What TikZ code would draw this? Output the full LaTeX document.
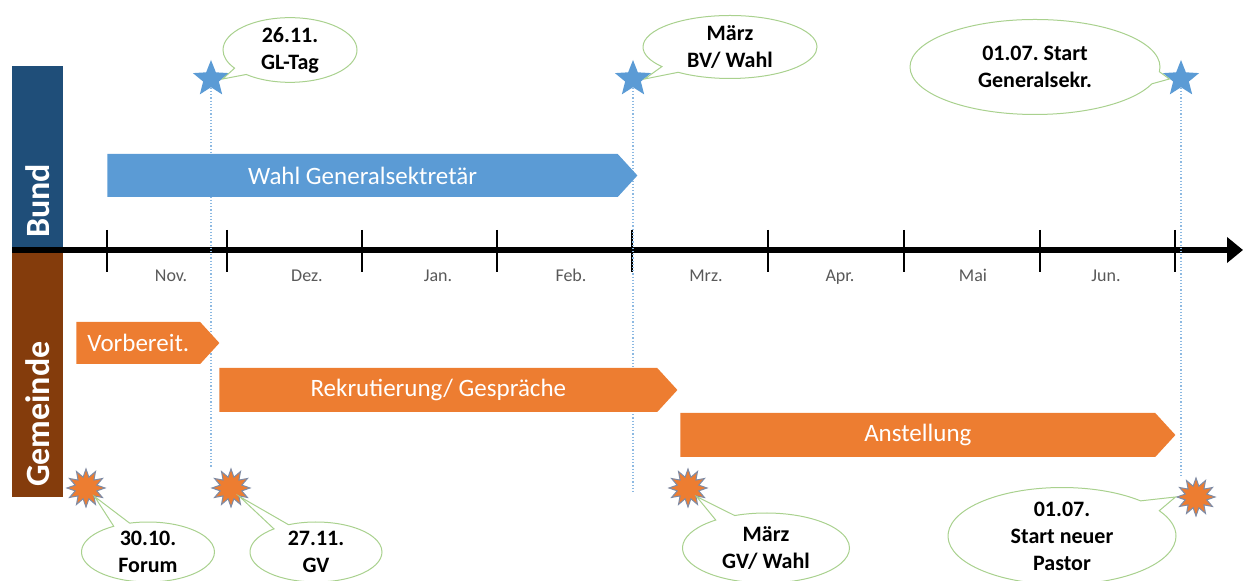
\documentclass[tikz,border=0pt]{standalone}
\usepackage{fontspec}
\setmainfont{Carlito}
\usepackage{xcolor}
\usetikzlibrary{shapes,shapes.callouts,positioning,calc,arrows.meta}

\definecolor{bundblue}{HTML}{1F4E79}
\definecolor{gembrown}{HTML}{843C0C}
\definecolor{barblue}{HTML}{5B9BD5}
\definecolor{barorange}{HTML}{ED7D31}
\definecolor{bubblegreen}{HTML}{A9D18E}
\definecolor{burstedge}{HTML}{7F8CA6}
\definecolor{monthgray}{HTML}{595959}

\tikzset{
    lane/.style={rotate=90, inner xsep=5pt, inner ysep=0pt, align=left, text=white, font=\fontsize{17}{19}\selectfont\bfseries},
    phase/.style={signal, signal to=east, signal pointer angle=95, anchor=west, inner sep=0pt, text=white, font=\fontsize{12.5}{14}\selectfont},
    bstar/.style={star, star points=5, star point ratio=2.3, fill=barblue, minimum size=19pt, inner sep=0pt},
    burst/.style={star, star points=12, star point ratio=1.7, fill=barorange, draw=burstedge, line width=0.5pt, minimum size=19pt, inner sep=0pt},
    bubble/.style={ellipse callout, draw=bubblegreen, fill=white, line width=0.5pt, align=center, inner sep=0pt, font=\fontsize{11}{13.5}\selectfont\bfseries},
    guide/.style={barblue!70, densely dotted, line width=0.6pt},
    month/.style={anchor=base, text=monthgray, font=\fontsize{9}{11}\selectfont}
}

\begin{document}
\frenchspacing
\begin{tikzpicture}[x=0.5pt,y=-0.5pt]
    \useasboundingbox (0,0) rectangle (1243,581);

    % Lanes
    \node[lane, fill=bundblue, minimum width=91pt, minimum height=25.5pt, text width=81pt] (bund) at (37.5,157) {Bund};
    \node[lane, fill=gembrown, minimum width=122.5pt, minimum height=25.5pt, text width=112.5pt] (gemeinde) at (37.5,374.5) {Gemeinde};

    % Time axis
    \coordinate (axstart) at (12,250);
    \coordinate (axend) at (1243,250);
    \draw[line width=3pt, -{Triangle[length=8pt,width=12.5pt]}] (axstart) -- (axend);
    \foreach \x in {107,227,362,497,632,768,904,1040,1175}
        \draw[line width=1pt] (\x,230) -- (\x,272);

    % Months
    \foreach \x/\m in {171/Nov., 307/Dez., 438/Jan., 571/Feb., 706/Mrz., 840/Apr., 973/Mai, 1106/Jun.}
        \node[month] at (\x,282) {\m};

    % Milestones Bund
    \node[bstar] (s1) at (211,79) {};
    \node[bstar] (s2) at (633,79) {};
    \node[bstar] (s3) at (1181,79) {};

    % Milestones Gemeinde
    \node[burst] (b1) at (86,488) {};
    \node[burst] (b2) at (231,488) {};
    \node[burst] (b3) at (688,488) {};
    \node[burst] (b4) at (1196,497) {};

    % Guide lines
    \draw[guide] (s1.south) -- ++(0,380);
    \draw[guide] (s2.south) -- ++(0,405);
    \draw[guide] (s3.south) -- ++(0,388);

    % Phases
    \node[phase, fill=barblue, minimum width=265pt, minimum height=21.5pt] (wahl) at (107,175.5) {Wahl Generalsektretär};
    \node[phase, fill=barorange, minimum width=71.5pt, minimum height=21pt] (vorb) at (76,343) {Vorbereit.};
    \node[phase, fill=barorange, minimum width=229pt, minimum height=22pt] (rekr) at (219,390) {Rekrutierung/ Gespräche};
    \node[phase, fill=barorange, minimum width=247.5pt, minimum height=22pt] (anst) at (680,435) {Anstellung};

    % Callouts
    \node[bubble, minimum width=67pt, minimum height=28pt, callout absolute pointer={(s1.east)}] (c1) at (290,50) {26.11.\\GL-Tag};
    \node[bubble, minimum width=87pt, minimum height=31.5pt, callout absolute pointer={(s2.east)}] (c2) at (730,47) {März\\BV/ Wahl};
    \node[bubble, minimum width=125pt, minimum height=47.5pt, callout absolute pointer={(s3.west)}] (c3) at (1035,67) {01.07. Start\\Generalsekr.};
    \node[bubble, minimum width=66.5pt, minimum height=30pt, callout absolute pointer={(b1.south east)}] (c4) at (148,552) {30.10.\\Forum};
    \node[bubble, minimum width=66pt, minimum height=30pt, callout absolute pointer={(b2.south east)}] (c5) at (316,552) {27.11.\\GV};
    \node[bubble, minimum width=83.5pt, minimum height=35pt, callout absolute pointer={(b3.south east)}] (c6) at (766,548) {März\\GV/ Wahl};
    \node[bubble, minimum width=114pt, minimum height=45pt, callout absolute pointer={(b4.west)}] (c7) at (1062,536) {01.07.\\Start neuer\\Pastor};
\end{tikzpicture}
\end{document}
